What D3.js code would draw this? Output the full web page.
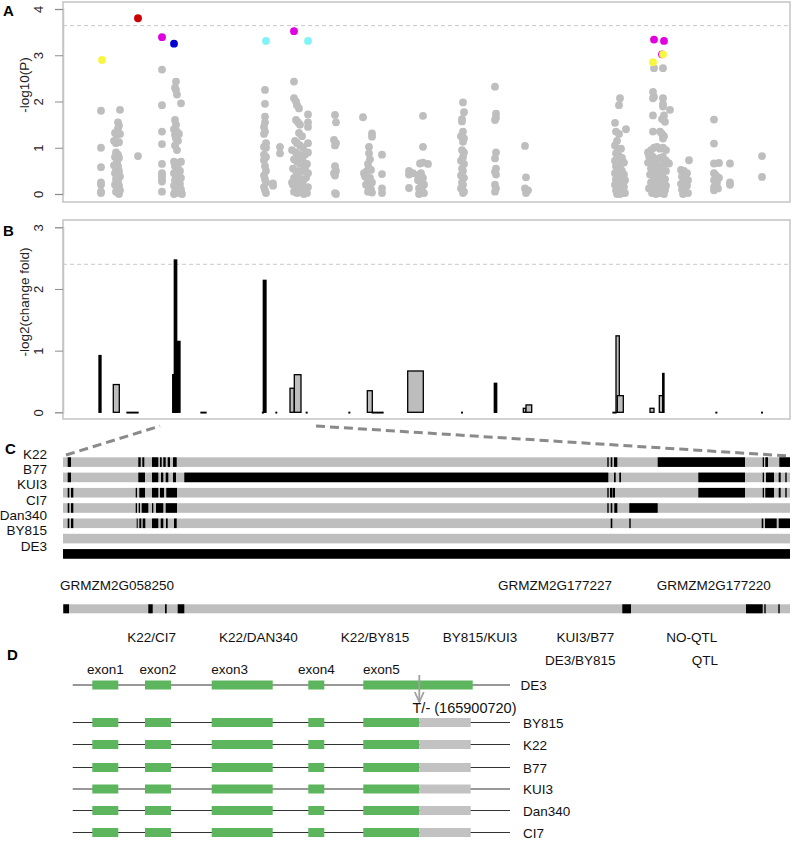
<!DOCTYPE html>
<html><head><meta charset="utf-8">
<script src="https://cdn.jsdelivr.net/npm/d3@7"></script>
<style>
html,body{margin:0;padding:0;background:#fff;}
svg text{font-family:"Liberation Sans",Arial,Helvetica,sans-serif;}
</style></head>
<body><svg id="chart" width="793" height="843"></svg>
<script>
// ---------- Panel A: association (-log10 P) by position (kb) ----------
const grayPoints = [
 [38,1.8],[38,1.0],[38,0.58],[38,0.25],[38,0.2],[38,0.05],[38,0.02],
 [57,1.82],[55,1.55],[56,1.48],[55,1.42],[52,1.32],[54,1.28],[57,1.3],[51,1.15],[53,1.1],[56,1.12],[53,0.9],[55,0.85],[52,0.8],[56,0.78],[54,0.7],[51,0.62],[55,0.6],[53,0.55],[56,0.5],[52,0.45],[54,0.4],[57,0.38],[53,0.32],[55,0.28],[52,0.2],[56,0.18],[54,0.12],[57,0.08],[53,0.05],[55,0.02],[56,0.0],
 [75,0.82],
 [99,2.69],[99,1.92],[99,1.35],[99,1.08],[99,0.65],[99,0.45],[99,0.38],[99,0.32],[99,0.27],[99,0.05],
 [113,2.43],[112,2.3],[113,2.25],[114,2.15],[118,1.96],[112,1.6],[113,1.5],[111,1.4],[114,1.35],[112,1.28],[116,1.3],[113,1.2],[115,1.15],[112,1.05],[114,0.95],[111,0.7],[113,0.65],[116,0.68],[118,0.7],[112,0.6],[115,0.55],[117,0.5],[111,0.45],[114,0.42],[116,0.38],[118,0.35],[112,0.3],[115,0.25],[117,0.22],[111,0.18],[113,0.15],[116,0.12],[118,0.1],[112,0.05],[114,0.03],[117,0.02],[119,0.0],[111,0.0],
 [202,2.25],[202,1.95],[202,1.67],[202,1.55],[201,1.45],[202,1.35],[201,1.3],[203,1.1],[201,1.02],[203,1.0],[201,0.85],[203,0.8],[201,0.73],[202,0.6],[203,0.5],[201,0.4],[202,0.32],[203,0.25],[201,0.15],[202,0.08],[203,0.02],[210,0.23],[210,0.18],
 [217,1.02],[217,0.88],
 [231,2.43],[231,2.07],[233,2.0],[234,1.92],[236,1.85],[245,1.72],[233,1.6],[235,1.55],[237,1.5],[245,1.55],[245,1.45],[236,1.32],[239,1.25],[232,1.15],[234,1.1],[237,1.05],[240,1.0],[245,1.1],[229,0.95],[233,0.9],[236,0.85],[239,0.8],[242,0.85],[245,0.9],[231,0.75],[234,0.7],[237,0.65],[240,0.7],[244,0.65],[230,0.55],[233,0.5],[236,0.45],[239,0.5],[242,0.55],[245,0.45],[231,0.35],[234,0.3],[237,0.32],[240,0.28],[243,0.35],[230,0.2],[233,0.15],[236,0.12],[239,0.18],[242,0.1],[245,0.15],[231,0.05],[234,0.02],[238,0.03],[241,0.0],[244,0.02],[229,0.25],
 [272,1.71],[273,1.55],[271,1.17],[273,1.1],[272,1.05],[272,0.6],[273,0.5],[271,0.45],[272,0.4],[272,0.02],[273,0.0],
 [300,1.66],[309,1.31],[309,1.24],[306,1.02],[306,0.88],[307,0.75],[305,0.65],[301,0.45],[304,0.5],[306,0.55],[308,0.52],[302,0.38],[305,0.3],[307,0.35],[309,0.25],[303,0.2],[306,0.15],[308,0.1],[305,0.05],[309,0.03],[319,0.85],[319,0.43],[319,0.12],[319,0.02],
 [360,1.69],[360,1.02],[357,0.66],[360,0.68],[365,0.65],[346,0.5],[346,0.42],[350,0.45],[355,0.4],[358,0.45],[360,0.35],[355,0.3],[358,0.25],[361,0.2],[346,0.13],[356,0.12],[359,0.08],[361,0.02],[356,0.0],
 [400,1.98],[401,1.77],[399,1.62],[399,1.57],[400,1.35],[398,1.25],[401,1.2],[400,1.13],[399,0.95],[401,0.9],[400,0.8],[398,0.72],[401,0.65],[399,0.55],[400,0.5],[398,0.4],[401,0.35],[399,0.25],[400,0.2],[398,0.12],[401,0.05],[400,0.02],
 [432,2.32],[433,1.74],[433,1.65],[432,1.6],[433,0.9],[432,0.77],[433,0.55],[432,0.48],[433,0.42],[432,0.2],[433,0.12],[432,0.05],
 [462,1.04],[463,0.36],[462,0.12],[465,0.08],[463,0.02],
 [557,2.07],[556,1.92],[552,1.54],[553,1.35],[563,1.4],[556,1.3],[554,1.15],[552,1.05],[555,0.95],[558,0.98],[553,0.88],[556,0.82],[559,0.78],[552,0.72],[555,0.7],[558,0.65],[561,0.68],[553,0.6],[556,0.55],[559,0.5],[552,0.45],[555,0.4],[558,0.38],[561,0.42],[553,0.32],[556,0.28],[559,0.25],[562,0.3],[552,0.2],[555,0.15],[558,0.12],[561,0.15],[553,0.08],[556,0.05],[559,0.03],[562,0.02],[554,0.0],[557,0.0],
 [591,2.72],[600,2.72],[590,2.21],[591,2.1],[590,2.07],[600,2.07],[600,1.95],[600,1.89],[607,1.82],[601,1.7],[599,1.62],[602,1.56],[590,1.7],[590,1.35],[597,1.35],[599,1.3],[601,1.25],[600,1.2],[585,0.9],[588,0.95],[591,1.0],[594,1.02],[597,0.98],[600,1.0],[603,0.95],[586,0.82],[590,0.8],[594,0.75],[597,0.78],[600,0.8],[603,0.72],[585,0.68],[589,0.65],[593,0.62],[597,0.6],[601,0.65],[606,0.66],[588,0.55],[592,0.5],[596,0.52],[600,0.48],[603,0.5],[587,0.42],[591,0.38],[595,0.35],[599,0.4],[602,0.32],[588,0.25],[592,0.22],[596,0.2],[600,0.25],[603,0.18],[586,0.12],[590,0.08],[594,0.1],[598,0.05],[602,0.08],[589,0.02],[593,0.0],[597,0.02],[601,0.0],
 [626,0.73],[618,0.52],[621,0.5],[624,0.45],[619,0.38],[622,0.35],[625,0.3],[618,0.22],[621,0.2],[624,0.18],[619,0.1],[622,0.05],[625,0.02],[620,0.0],
 [651,1.61],[651,1.09],[651,0.66],[656,0.67],[667,0.66],[651,0.45],[653,0.4],[656,0.35],[651,0.3],[654,0.25],[667,0.25],[667,0.2],[651,0.15],[655,0.12],[651,0.08],
 [699,0.82],[699,0.37]
];
const sigPos    = [39, 75, 99, 111, 203, 231, 245, 591, 601, 599, 600, 590];
const sigValue  = [2.9, 3.8, 3.39, 3.25, 3.31, 3.52, 3.31, 3.34, 3.31, 3.02, 3.02, 2.85];
const sigColor  = ["#f7f740","#cc0000","#e000e0","#0000d0","#80f4f4","#e000e0","#80f4f4","#e000e0","#e000e0","#e000e0","#f7f740","#f7f740"];
const thresholdA = 3.64;
const ticksA = [0,1,2,3,4];

// ---------- Panel B: expression change (-log2 fold) ----------
const barStart = [36, 50.3, 64, 109.7, 111.3, 113.7, 138, 199.5, 200.3, 213, 227, 231.3, 243.3, 286, 304.3, 309.3, 344.7, 398.7, 431.3, 460.3, 463, 550, 553, 554.3, 587, 596.3, 599.7, 653, 698.7];
const barEnd   = [38, 56.3, 75, 112, 113.7, 117, 143, 200.5, 203, 213.6, 231.3, 238, 244, 286.7, 309.3, 320, 360.3, 399.3, 433.7, 463, 468.7, 553, 556.3, 560.3, 591, 600.3, 601, 653.7, 699.3];
const barValue = [0.92, 0.45, 0, 0.61, 2.47, 1.15, 0, 0, 2.14, 0, 0.39, 0.61, 0, 0, 0.35, 0, 0.67, 0, 0.47, 0.065, 0.12, 0, 1.24, 0.27, 0.065, 0.27, 0.63, 0, 0];
const barType  = ["b","g","b","b","b","b","b","b","b","b","g","g","b","b","g","b","g","b","b","g","g","b","g","g","g","g","b","b","b"];
const thresholdB = 2.4;
const ticksB = [0,1,2,3];

// ---------- Panel C: haplotypes (black = DE3-type allele segments) ----------
const lines = ["K22","B77","KUI3","CI7","Dan340","BY815","DE3"];
const haploK22 = [[4.7,8],[75.3,77.7],[79.3,81.3],[89,95.3],[97,98.7],[100.3,102.7],[104.7,107],[110,113.7],[544.3,545.7],[547.7,549.3],[551,554.3],[594.7,682],[699.7,701],[702.3,705],[716.3,727]];
const haploB77 = [[4.7,8],[75.3,82],[89,95.3],[98,100.3],[102.7,105.3],[110,113],[121.3,545.3],[551,552.7],[556.3,558],[635.3,682],[699.7,701],[703,711],[715.7,717.7],[722.3,723.7]];
const haploKUI3 = [[4.7,6.3],[8,10.3],[72.7,74],[76.3,82],[89,95.3],[97,101],[103.3,114],[544.3,545.7],[547,549.3],[549.7,552],[635.3,682],[699.7,701],[702.3,711],[715.7,717.7],[722.3,723.7]];
const haploCI7 = [[4.7,6.3],[8,10.3],[72.7,74],[75.7,77],[78.7,85.3],[89,90.3],[93,100.3],[102.7,114],[544.3,545.7],[547.7,549.3],[551.3,554.3],[566.3,594.7]];
const haploDan340 = [[4.7,6.3],[8,10.3],[73.7,74.7],[76.3,78.3],[79.7,82.3],[89,95.3],[97.7,100.3],[103,104.7],[111,113.7],[547.7,549.3],[566.3,567.7],[698.7,700.3],[702,713.7],[715.7,727]];
const haploBY815 = [];
const haploDE3 = [[0,727]];
const geneNames = ["GRMZM2G058250","GRMZM2G177227","GRMZM2G177220"];
const geneLabelPos = [-3, 435, 593.7];
const geneSegments = [[0.3,6],[85.3,89.7],[102,103.7],[114.7,121.3],[559.3,568],[683,699.7],[701.3,702.7],[715.3,716.7]];

// ---------- Panel D: gene structure ----------
const comparisonsTop = ["K22/CI7","K22/DAN340","K22/BY815","BY815/KUI3","KUI3/B77","NO-QTL"];
const comparisonsTopPos = [151.7, 258.3, 375, 480, 585.3, 691.7];
const comparisonsBottom = ["DE3/BY815","QTL"];
const comparisonsBottomPos = [580.3, 705];
const exonNames = ["exon1","exon2","exon3","exon4","exon5"];
const exonStart = [19.6, 72.3, 139, 235.6, 290.6];
const exonEnd   = [45.6, 98.3, 200, 251.6, 400];
const truncEnd  = 346.6;   // end of coding part before the T deletion
const utrEnd    = 398;
const geneLength = 437.3;
const structLines = ["DE3","BY815","K22","B77","KUI3","Dan340","CI7"];
const snpLabel = "T/- (165900720)";

// ================= drawing =================
const svg = d3.select("#chart");
const x = d3.scaleLinear().domain([0,727]).range([63,790]);
const yA = d3.scaleLinear().domain([0,4]).range([194,9]);
const yB = d3.scaleLinear().domain([0,3]).range([412.3,227.3]);
const boxCol = "#c4c4c4", tickCol = "#8c8c8c";

function panelFrame(g, top, bottom, y, ticks, title, titleY, letter, letterY){
  g.append("rect").attr("x",63).attr("y",top).attr("width",727).attr("height",bottom-top)
    .attr("fill","none").attr("stroke",boxCol).attr("stroke-width",1.5);
  const ax = g.append("g").attr("transform","translate(63,0)")
    .call(d3.axisLeft(y).tickValues(ticks).tickSize(8).tickFormat(d3.format("d")));
  ax.select(".domain").attr("stroke",boxCol).attr("stroke-width",1.5);
  ax.selectAll(".tick line").attr("stroke",tickCol);
  ax.selectAll(".tick text").attr("x",0).attr("y",-20).attr("dy",0)
    .attr("text-anchor","middle").attr("transform","rotate(-90)")
    .attr("fill","#222").style("font-size","13px").style("font-family","Liberation Sans, Arial, sans-serif");
  g.append("text").attr("transform",`translate(29,${titleY}) rotate(-90)`)
    .attr("text-anchor","middle").style("font-size","13.5px").attr("fill","#222").text(title);
  g.append("text").attr("x",3).attr("y",letterY).style("font-size","15px").style("font-weight","bold").text(letter);
}

// Panel A
const gA = svg.append("g");
panelFrame(gA, 2, 202, yA, ticksA, "-log10(P)", 85, "A", 16);
gA.append("line").attr("x1",63).attr("x2",790).attr("y1",yA(thresholdA)).attr("y2",yA(thresholdA))
  .attr("stroke","#c8c8c8").attr("stroke-dasharray","4,3");
gA.selectAll("circle.gray").data(grayPoints).join("circle").attr("class","gray")
  .attr("cx",d=>x(d[0])).attr("cy",d=>yA(d[1])).attr("r",3.9).attr("fill","#bebebe");
gA.selectAll("circle.sig").data(sigPos.map((p,i)=>({p,v:sigValue[i],c:sigColor[i]}))).join("circle").attr("class","sig")
  .attr("cx",d=>x(d.p)).attr("cy",d=>yA(d.v)).attr("r",3.9).attr("fill",d=>d.c);

// Panel B
const gB = svg.append("g");
panelFrame(gB, 220, 419, yB, ticksB, "-log2(change fold)", 302, "B", 236);
gB.append("line").attr("x1",63).attr("x2",790).attr("y1",yB(thresholdB)).attr("y2",yB(thresholdB))
  .attr("stroke","#c8c8c8").attr("stroke-dasharray","4,3");
const bars = barStart.map((s,i)=>({s,e:barEnd[i],v:barValue[i],t:barType[i]}));
gB.selectAll("rect.bar").data(bars).join("rect").attr("class","bar")
  .attr("x",d=>x(d.s)).attr("width",d=>Math.max(x(d.e)-x(d.s),0.5))
  .attr("y",d=>yB(d.v)).attr("height",d=>Math.max(yB(0)-yB(d.v),0.6))
  .attr("fill",d=>d.t==="b"?"#000":"#bdbdbd").attr("stroke","#000").attr("stroke-width",1.3);

// Panel C
const gC = svg.append("g");
gC.append("text").attr("x",5).attr("y",454).style("font-size","15px").style("font-weight","bold").text("C");
gC.append("line").attr("x1",66).attr("y1",455).attr("x2",160).attr("y2",426)
  .attr("stroke","#8a8a8a").attr("stroke-width",3).attr("stroke-dasharray","9,5");
gC.append("line").attr("x1",316).attr("y1",426).attr("x2",789).attr("y2",456)
  .attr("stroke","#8a8a8a").attr("stroke-width",3).attr("stroke-dasharray","9,5");
const haplos = [haploK22,haploB77,haploKUI3,haploCI7,haploDan340,haploBY815,haploDE3];
const rowY = d3.scalePoint().domain(lines).range([457.3,549.1]);
const trackH = 9.6;
lines.forEach((name,i)=>{
  const ty = rowY(name);
  gC.append("rect").attr("x",x(0)).attr("y",ty).attr("width",x(727)-x(0)).attr("height",trackH).attr("fill","#bebebe");
  gC.selectAll(null).data(haplos[i]).join("rect")
    .attr("x",d=>x(d[0])).attr("width",d=>x(d[1])-x(d[0])).attr("y",ty).attr("height",trackH).attr("fill","#000");
  gC.append("text").attr("x",47).attr("y",ty+1.5).attr("text-anchor","end").style("font-size","13.5px").attr("fill","#111").text(name);
});
gC.selectAll("text.gene").data(geneNames).join("text").attr("class","gene")
  .attr("x",(d,i)=>x(geneLabelPos[i])).attr("y",590).style("font-size","13.5px").attr("fill","#111").text(d=>d);
gC.append("rect").attr("x",x(0)).attr("y",604.3).attr("width",x(727)-x(0)).attr("height",9).attr("fill","#bebebe");
gC.selectAll("rect.gseg").data(geneSegments).join("rect").attr("class","gseg")
  .attr("x",d=>x(d[0])).attr("width",d=>x(d[1])-x(d[0])).attr("y",604.3).attr("height",9).attr("fill","#000");

// Panel D
const gD = svg.append("g");
gD.append("text").attr("x",7).attr("y",660).style("font-size","15px").style("font-weight","bold").text("D");
gD.selectAll("text.ct").data(comparisonsTop).join("text").attr("class","ct")
  .attr("x",(d,i)=>comparisonsTopPos[i]).attr("y",642).attr("text-anchor","middle").style("font-size","13.5px").attr("fill","#111").text(d=>d);
gD.selectAll("text.cb").data(comparisonsBottom).join("text").attr("class","cb")
  .attr("x",(d,i)=>comparisonsBottomPos[i]).attr("y",665).attr("text-anchor","middle").style("font-size","13.5px").attr("fill","#111").text(d=>d);
const xD = d3.scaleLinear().domain([0,geneLength]).range([72.7,510]);
gD.selectAll("text.ex").data(exonNames).join("text").attr("class","ex")
  .attr("x",(d,i)=>xD((exonStart[i]+Math.min(exonEnd[i],exonStart[i]+36))/2)).attr("y",674)
  .attr("text-anchor","middle").style("font-size","13.5px").attr("fill","#111").text(d=>d);
const structY = [685, 722.5, 744.5, 767.5, 789, 810.5, 832.5];
const exH = 9, green = "#5db55d", utrGray = "#c2c2c2";
structLines.forEach((name,i)=>{
  const cy = structY[i];
  gD.append("line").attr("x1",xD(0)).attr("x2",xD(geneLength)).attr("y1",cy).attr("y2",cy).attr("stroke","#333").attr("stroke-width",1.1);
  const ex = exonStart.map((s,k)=>({s,e: (i===0||k<4)?exonEnd[k]:truncEnd}));
  gD.selectAll(null).data(ex).join("rect").attr("x",d=>xD(d.s)).attr("width",d=>xD(d.e)-xD(d.s))
    .attr("y",cy-exH/2).attr("height",exH).attr("fill",green);
  if(i>0){
    gD.append("rect").attr("x",xD(truncEnd)).attr("width",xD(utrEnd)-xD(truncEnd)).attr("y",cy-exH/2).attr("height",exH).attr("fill",utrGray);
  }
  gD.append("text").attr("x",i===0?520.5:523).attr("y",cy+5).style("font-size","13.5px").attr("fill","#111").text(name);
});
const ax0 = xD(truncEnd);
gD.append("line").attr("x1",ax0).attr("x2",ax0).attr("y1",675).attr("y2",702).attr("stroke","#a0a0a0").attr("stroke-width",1.8);
gD.append("path").attr("d",`M${ax0-4.5},${692} L${ax0},${702} L${ax0+4.5},${692}`).attr("fill","none").attr("stroke","#a0a0a0").attr("stroke-width",1.8);
gD.append("text").attr("x",412.5).attr("y",713).style("font-size","14.5px").attr("fill","#111").text(snpLabel);
</script></body></html>
